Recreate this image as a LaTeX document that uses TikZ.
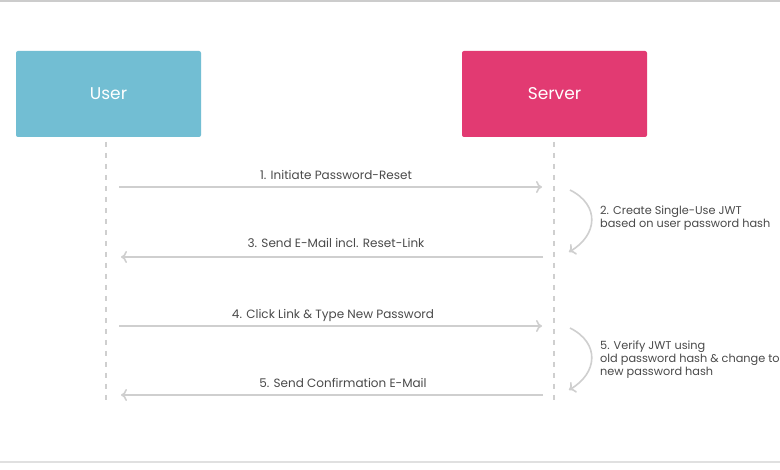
\documentclass[tikz,border=0pt]{standalone}
\usepackage{fontspec}
\setmainfont{Poppins}
\usetikzlibrary{arrows.meta}
\definecolor{usercol}{HTML}{72BED3}
\definecolor{servercol}{HTML}{E23A72}
\definecolor{linecol}{HTML}{CFCFCF}
\definecolor{textcol}{HTML}{4A4A4A}
\tikzset{
  actor/.style={minimum width=185pt, minimum height=86pt, rounded corners=2pt, text=white, font=\fontsize{17}{20}\selectfont, inner sep=0pt},
  lifeline/.style={draw=linecol, line width=1.2pt, dash pattern=on 5pt off 6pt},
  msg/.style={draw=linecol, line width=1.6pt, -{To[length=6pt, width=12pt]}},
  msglabel/.style={text=textcol, font=\fontsize{12}{14}\selectfont, inner sep=0pt, anchor=base},
  selfmsg/.style={draw=linecol, line width=1.6pt, -{To[length=6pt, width=12pt]}},
  note/.style={text=textcol, font=\fontsize{11.3}{12.6}\selectfont, align=left, anchor=north west, inner sep=0pt}
}
\begin{document}
\begin{tikzpicture}[x=1pt, y=-1pt]
			%%%%% START %%%%%
			\clip (0, 0) rectangle (780, 470);
			\fill[white] (0, 0) rectangle (780, 470);
			\draw[line width=2pt, color=black!20] (0, 1) -- (780, 1);
			\draw[line width=2pt, color=black!12] (0, 462) -- (780, 462);
			
			\node[actor, fill=usercol] (user) at (108.5, 94) {User};
			\node[actor, fill=servercol] (server) at (554.5, 94) {Server};
			
			% lifelines
			\coordinate (userend) at (106, 400);
			\coordinate (serverend) at (554, 400);
			\draw[lifeline] (106, 142) -- (userend);
			\draw[lifeline] (554, 142) -- (serverend);
			
			% message ends
			\coordinate (u1) at (119, 187);
			\coordinate (s1) at (542, 187);
			\coordinate (u3) at (121, 257);
			\coordinate (s3) at (543, 257);
			\coordinate (u4) at (119, 326);
			\coordinate (s4) at (542, 326);
			\coordinate (u5) at (121, 395);
			\coordinate (s5) at (543, 395);
			
			\draw[msg] (u1) -- (s1);
			\node[msglabel] (l1) at (336, 179.5) {1. Initiate Password-Reset};
			\draw[msg] (s3) -- (u3);
			\node[msglabel] (l3) at (336, 247.5) {3. Send E-Mail incl. Reset-Link};
			\draw[msg] (u4) -- (s4);
			\node[msglabel] (l4) at (333, 318.5) {4. Click Link \& Type New Password};
			\draw[msg] (s5) -- (u5);
			\node[msglabel] (l5) at (343, 387.5) {5. Send Confirmation E-Mail};
			
			% self steps on the server
			\coordinate (c2a) at (570, 190);
			\coordinate (c2b) at (569, 252);
			\draw[selfmsg] (c2a) .. controls (600, 205) and (598, 235) .. (c2b);
			\node[note] (n2) at (600, 206) {2. Create Single-Use JWT\\based on user password hash};
			
			\coordinate (c5a) at (570, 328);
			\coordinate (c5b) at (569, 390);
			\draw[selfmsg] (c5a) .. controls (600, 343) and (598, 373) .. (c5b);
			\node[note] (n5) at (600, 341) {5. Verify JWT using\\old password hash \& change to\\new password hash};
			%%%%% END %%%%%
\end{tikzpicture}
\end{document}
